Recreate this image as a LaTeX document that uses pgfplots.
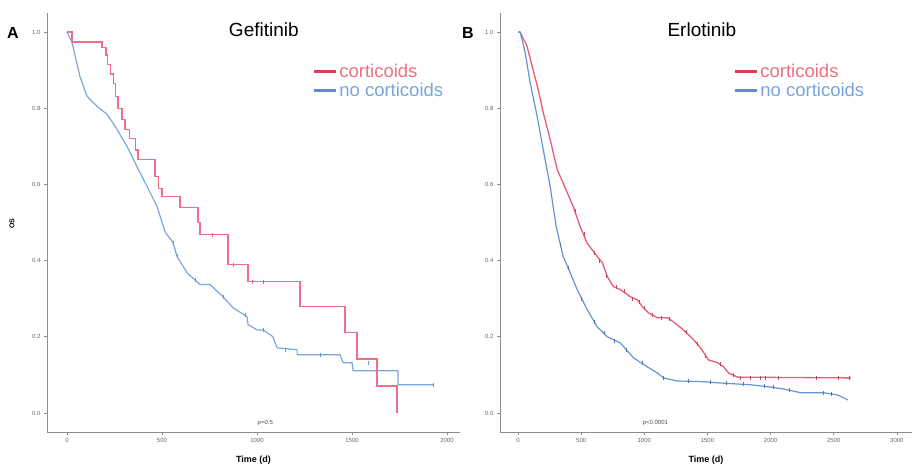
\documentclass[border=0pt]{standalone}
\usepackage{pgfplots}
\pgfplotsset{compat=1.18}
\usepackage{fontspec}
\setmainfont{Liberation Sans}
\definecolor{redline}{RGB}{232,92,118}
\definecolor{redgef}{RGB}{238,110,140}
\definecolor{blueline}{RGB}{100,150,215}
\definecolor{bluegef}{RGB}{120,168,225}
\definecolor{redleg}{RGB}{225,60,82}
\definecolor{blueleg}{RGB}{95,140,205}
\definecolor{redtxt}{RGB}{236,112,128}
\definecolor{bluetxt}{RGB}{120,165,222}

\pgfplotstableread{
x y
0 1.000
26 0.974
184 0.960
205 0.940
215 0.915
228 0.890
245 0.865
255 0.830
268 0.800
290 0.770
305 0.745
330 0.720
360 0.690
374 0.666
463 0.620
480 0.590
500 0.568
595 0.539
689 0.500
700 0.468
847 0.389
953 0.345
1226 0.279
1463 0.211
1526 0.142
1632 0.071
1737 0.000
}\gefred

\pgfplotstableread{
x y
0 1.000
26 0.974
68 0.884
105 0.832
158 0.805
211 0.784
253 0.753
316 0.700
368 0.647
421 0.595
474 0.542
516 0.476
558 0.447
579 0.411
632 0.368
700 0.337
753 0.337
821 0.305
874 0.276
947 0.253
953 0.232
1000 0.218
1032 0.218
1084 0.200
1105 0.171
1211 0.166
1211 0.153
1437 0.153
1453 0.132
1500 0.132
1505 0.111
1742 0.111
1742 0.074
1926 0.074
}\gefblue

\pgfplotstableread{
x y
0 1.000
16 1.000
71 0.963
111 0.911
159 0.850
199 0.789
254 0.718
310 0.639
389 0.579
437 0.542
492 0.489
548 0.445
627 0.411
667 0.395
707 0.358
754 0.332
810 0.324
889 0.305
945 0.297
985 0.279
1032 0.263
1104 0.250
1183 0.250
1231 0.239
1310 0.218
1390 0.192
1445 0.171
1509 0.139
1580 0.132
1628 0.121
1667 0.105
1739 0.094
2636 0.092
}\erlred

\pgfplotstableread{
x y
0 1.000
16 1.000
56 0.947
95 0.868
151 0.779
199 0.692
254 0.595
302 0.489
357 0.411
413 0.368
468 0.324
548 0.271
627 0.226
707 0.200
810 0.184
913 0.145
1024 0.121
1104 0.105
1151 0.092
1262 0.084
1469 0.082
1580 0.079
1842 0.074
2001 0.068
2104 0.063
2239 0.053
2422 0.053
2533 0.047
2612 0.034
}\erlblue

\pgfplotsset{
  km/.style={
    scale only axis, anchor=south west,
    height=419pt,
    ymin=-0.05, ymax=1.05,
    axis x line*=bottom, axis y line*=left,
    axis line style={black!45, line width=0.9pt, -},
    tick style={black!45, line width=0.6pt},
    tick align=outside, major tick length=3pt,
    ytick={0,0.2,0.4,0.6,0.8,1.0},
    yticklabels={0.0,0.2,0.4,0.6,0.8,1.0},
    /pgf/number format/1000 sep={},
    /pgf/number format/assume math mode=true,
    ticklabel style={font=\fontsize{6}{6}\selectfont, text=black!60},
    xlabel={\textbf{Time (d)}},
    xlabel style={font=\fontsize{9}{9}\selectfont, at={(axis description cs:0.5,0)}, anchor=center, yshift=-28pt},
    legend cell align=left,
    legend style={draw=none, fill=none, font=\fontsize{18.5}{18.5}\selectfont, row sep=0pt, inner sep=0pt},
    legend image code/.code={\draw[line width=3pt] (0pt,0pt) -- (22pt,0pt);},
    title style={font=\fontsize{19}{19}\selectfont, anchor=center},
  }
}

\begin{document}
\begin{tikzpicture}
\useasboundingbox (0,0) rectangle (912pt,470pt);

\begin{axis}[km, at={(47pt,38pt)}, width=413pt,
  xmin=-105, xmax=2068, xtick={0,500,1000,1500,2000},
  ylabel={\textbf{OS}},
  ylabel style={font=\fontsize{7}{7}\selectfont, at={(axis description cs:-0.085,0.497)}, anchor=center},
  title={Gefitinib}, title style={at={(axis description cs:0.525,0.945)}},
  legend style={at={(axis description cs:0.642,0.883)}, anchor=north west}]
\addplot[color=bluegef, solid, line width=1.2pt, line join=round, forget plot] table[x=x, y=y] {\gefblue};
\addplot[color=redgef, solid, const plot mark left, line width=1.3pt, forget plot] table[x=x, y=y] {\gefred};
\addplot[color=redline, only marks, mark=|, mark size=2pt, forget plot] coordinates {(763,0.468) (874,0.389) (974,0.345) (1032,0.345)};
\addplot[color=blueline, only marks, mark=|, mark size=2pt, forget plot] coordinates {(558,0.447) (579,0.411) (673,0.350) (821,0.305) (937,0.258) (1032,0.218) (1147,0.166) (1332,0.153) (1584,0.132) (1926,0.074)};
\addlegendimage{color=redleg}
\addlegendentry{\textcolor{redtxt}{corticoids}}
\addlegendimage{color=blueleg}
\addlegendentry{\textcolor{bluetxt}{no corticoids}}
\node[anchor=west, font=\fontsize{6}{6}\selectfont, text=black!70] at (axis cs:985,-0.027) {p=0.5};
\end{axis}

\begin{axis}[km, at={(500pt,38pt)}, width=412pt,
  xmin=-143, xmax=3120, xtick={0,500,1000,1500,2000,2500,3000},
  title={Erlotinib}, title style={at={(axis description cs:0.49,0.945)}},
  legend style={at={(axis description cs:0.566,0.883)}, anchor=north west}]
\addplot[color=redline, solid, line width=1.3pt, line join=round, forget plot] table[x=x, y=y] {\erlred};
\addplot[color=blueline, solid, line width=1.2pt, line join=round, forget plot] table[x=x, y=y] {\erlblue};
\addplot[color=redline!80!black, only marks, mark=|, mark size=2pt, forget plot] coordinates {(450,0.53) (520,0.47) (600,0.42) (640,0.40) (700,0.36) (780,0.33) (840,0.32) (900,0.30) (960,0.29) (1000,0.275) (1060,0.258) (1130,0.25) (1200,0.246) (1330,0.212) (1420,0.18) (1480,0.15) (1600,0.128) (1700,0.10) (1763,0.093) (1842,0.093) (1921,0.093) (1961,0.093) (2064,0.093) (2358,0.092) (2533,0.092) (2620,0.092)};
\addplot[color=blueline!80!black, only marks, mark=|, mark size=2pt, forget plot] coordinates {(330,0.44) (400,0.38) (500,0.30) (600,0.24) (680,0.21) (760,0.19) (860,0.165) (980,0.13) (1150,0.092) (1350,0.083) (1520,0.081) (1650,0.078) (1780,0.075) (1950,0.070) (2020,0.067) (2150,0.060) (2420,0.053) (2480,0.050)};
\addlegendimage{color=redleg}
\addlegendentry{\textcolor{redtxt}{corticoids}}
\addlegendimage{color=blueleg}
\addlegendentry{\textcolor{bluetxt}{no corticoids}}
\node[anchor=west, font=\fontsize{6}{6}\selectfont, text=black!70] at (axis cs:960,-0.027) {p<0.0001};
\end{axis}

\node[font=\fontsize{16}{16}\selectfont\bfseries] at (13pt,437pt) {A};
\node[font=\fontsize{16}{16}\selectfont\bfseries] at (468pt,437pt) {B};
\end{tikzpicture}
\end{document}
